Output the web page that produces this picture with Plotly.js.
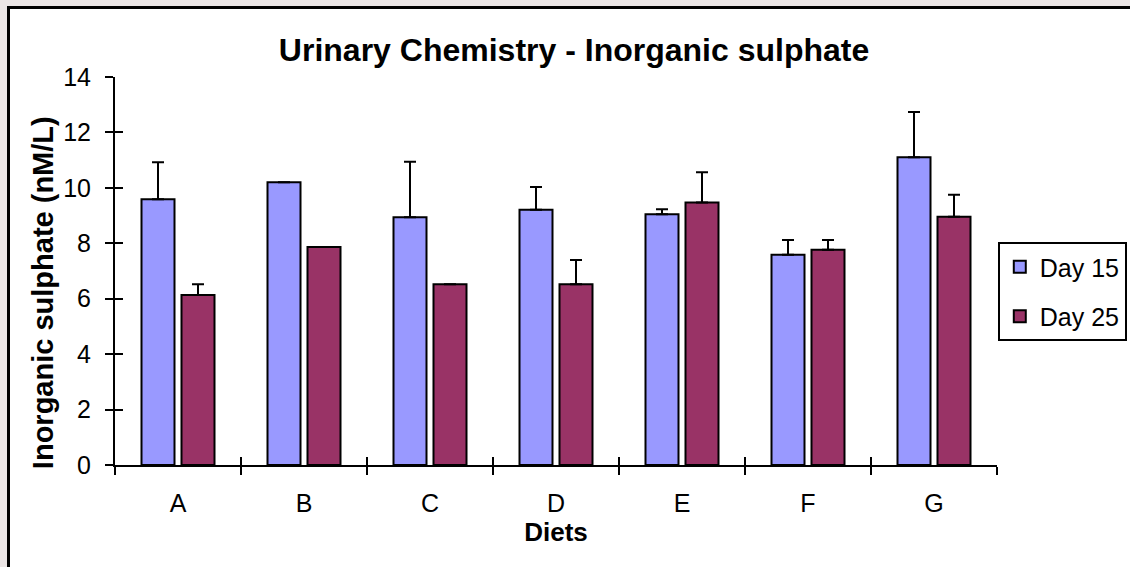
<!DOCTYPE html>
<html>
<head>
<meta charset="utf-8">
<script src="https://cdn.plot.ly/plotly-3.0.1.min.js"></script>
<style>
  html, body { margin: 0; padding: 0; }
  body { width: 1130px; height: 567px; background: #ebe5e5; position: relative; overflow: hidden; }
  #frame { position: absolute; left: 7px; top: 6px; width: 1200px; height: 700px; background: #ffffff;
           border-left: 3px solid #000; border-top: 3px solid #000; }
  #chart { position: absolute; left: 0; top: 0; width: 1130px; height: 567px; }
</style>
</head>
<body>
<div id="frame"></div>
<div id="chart"></div>
<script>
const categories = ["A", "B", "C", "D", "E", "F", "G"];
const day15 = [9.59, 10.2, 8.94, 9.21, 9.05, 7.59, 11.1];
const day15Err = [1.33, null, 2.0, 0.82, 0.18, 0.53, 1.64];
const day25 = [6.13, 7.87, 6.52, 6.52, 9.47, 7.77, 8.96];
const day25Err = [0.39, null, null, 0.88, 1.09, 0.35, 0.79];
const seriesNames = ["Day 15", "Day 25"];
const yTicks = [0, 2, 4, 6, 8, 10, 12, 14];

const font = "Liberation Sans, Arial, sans-serif";

const traces = [
  {
    type: "bar", name: seriesNames[0], x: categories, y: day15, legendgroup: "g1",
    marker: { color: "#9999ff", line: { color: "#000000", width: 2 } },
    error_y: { type: "data", symmetric: false, array: day15Err, arrayminus: day15Err.map(() => 0),
               color: "#000000", thickness: 2, width: 6 }
  },
  {
    type: "bar", name: seriesNames[1], x: categories, y: day25, legendgroup: "g2",
    marker: { color: "#993366", line: { color: "#000000", width: 2 } },
    error_y: { type: "data", symmetric: false, array: day25Err, arrayminus: day25Err.map(() => 0),
               color: "#000000", thickness: 2, width: 6 }
  },
  {
    type: "scatter", mode: "none", x: categories, y: day15, xaxis: "x2", yaxis: "y2",
    showlegend: false, hoverinfo: "skip"
  }
];

const layout = {
  width: 1130, height: 567,
  paper_bgcolor: "rgba(0,0,0,0)",
  plot_bgcolor: "rgba(0,0,0,0)",
  margin: { l: 115, r: 133, t: 77, b: 102, autoexpand: false },
  barmode: "group",
  bargap: 0.365,
  bargroupgap: 0.175,
  title: {
    text: "<b>Urinary Chemistry - Inorganic sulphate</b>",
    font: { family: font, size: 32, color: "#000" },
    x: 0.508, xanchor: "center", y: 0.912, yanchor: "middle"
  },
  xaxis: {
    type: "category",
    showline: true, linecolor: "#000", linewidth: 2,
    ticks: "outside", ticklen: 8, tickwidth: 2, tickcolor: "#000",
    tickson: "boundaries",
    ticklabelstandoff: 15,
    tickfont: { family: font, size: 25, color: "#000" },
    showgrid: false, zeroline: false,
    title: { text: "<b>Diets</b>", font: { family: font, size: 26, color: "#000" }, standoff: 2 }
  },
  yaxis: {
    range: [0, 14], tickvals: yTicks,
    showline: true, linecolor: "#000", linewidth: 2,
    ticks: "outside", ticklen: 8, tickwidth: 2, tickcolor: "#000",
    ticklabelstandoff: 9,
    tickfont: { family: font, size: 25, color: "#000" },
    showgrid: false, zeroline: false
  },
  xaxis2: {
    type: "category", overlaying: "x", matches: "x",
    ticks: "inside", ticklen: 8, tickwidth: 2, tickcolor: "#000",
    tickson: "boundaries", showticklabels: false, showline: false, showgrid: false, zeroline: false
  },
  yaxis2: {
    overlaying: "y", range: [0, 14], tickvals: yTicks,
    ticks: "inside", ticklen: 8, tickwidth: 2, tickcolor: "#000",
    showticklabels: false, showline: false, showgrid: false, zeroline: false
  },
  annotations: [{
    text: "<b>Inorganic sulphate (nM/L)</b>",
    xref: "paper", yref: "paper", x: -0.0816, y: 0.443,
    xanchor: "center", yanchor: "middle", textangle: -90, showarrow: false,
    font: { family: font, size: 29, color: "#000" }
  }],
  legend: {
    xref: "container", yref: "container",
    x: 0.883, xanchor: "left", y: 0.573, yanchor: "top",
    bgcolor: "#ffffff", bordercolor: "#000", borderwidth: 2,
    font: { family: font, size: 25, color: "#000" },
    tracegroupgap: 14, itemwidth: 30
  },
  showlegend: true
};

Plotly.newPlot("chart", traces, layout, { displayModeBar: false, staticPlot: true });
</script>
</body>
</html>
